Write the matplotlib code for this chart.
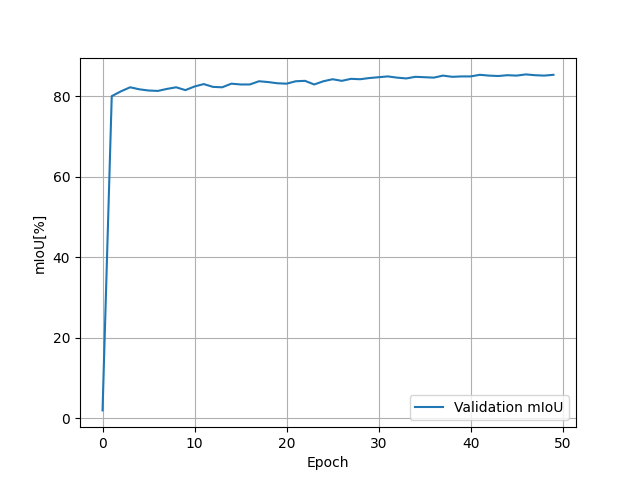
import matplotlib
matplotlib.use("Agg")
import matplotlib.pyplot as plt
import numpy as np

# Validation mIoU per epoch
epochs = np.arange(50)
val_miou = [2.0, 80.0, 81.2, 82.2, 81.7, 81.4, 81.3, 81.8, 82.2, 81.5,
            82.4, 83.0, 82.3, 82.2, 83.1, 82.9, 82.9, 83.7, 83.5, 83.2,
            83.1, 83.7, 83.8, 82.9, 83.7, 84.2, 83.8, 84.3, 84.2, 84.5,
            84.7, 84.9, 84.6, 84.4, 84.8, 84.7, 84.6, 85.1, 84.8, 84.9,
            84.9, 85.3, 85.1, 85.0, 85.2, 85.1, 85.4, 85.2, 85.1, 85.3]

fig, ax = plt.subplots(figsize=(6.4, 4.8), dpi=100)
ax.plot(epochs, val_miou, label='Validation mIoU')
ax.set_xlabel('Epoch')
ax.set_ylabel('mIoU[%]')
ax.grid(True)
ax.legend(loc='lower right')

plt.savefig('out.png', dpi=100)
plt.close()
